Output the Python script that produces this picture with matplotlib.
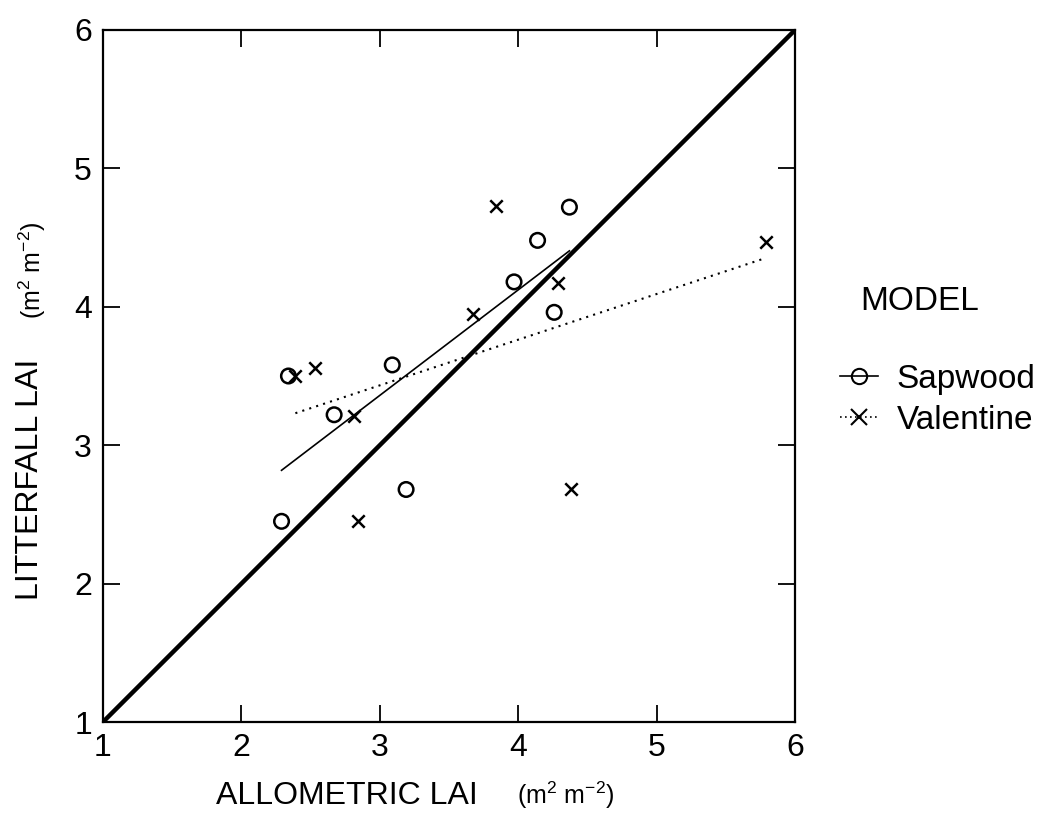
import numpy as np
import matplotlib
matplotlib.use("Agg")
import matplotlib.pyplot as plt
from matplotlib.lines import Line2D

plt.rcParams['font.family'] = ['Liberation Sans', 'DejaVu Sans']
plt.rcParams['mathtext.fontset'] = 'custom'
plt.rcParams['mathtext.rm'] = 'Liberation Sans'
plt.rcParams['mathtext.default'] = 'regular'

# data
sap_x = [2.29, 2.34, 2.67, 3.09, 3.19, 3.97, 4.14, 4.26, 4.37]
sap_y = [2.45, 3.50, 3.22, 3.58, 2.68, 4.18, 4.48, 3.96, 4.72]
val_x = [2.39, 2.53, 2.81, 2.84, 3.67, 3.84, 4.29, 4.38, 5.79]
val_y = [3.50, 3.56, 3.21, 2.45, 3.95, 4.73, 4.17, 2.68, 4.47]
ticks = [1, 2, 3, 4, 5, 6]

W, H = 1045, 816
fig = plt.figure(figsize=(W / 100, H / 100), dpi=100)
ax = fig.add_axes([103 / W, 1 - 722 / H, 692 / W, 692 / H])

# 1:1 line
ax.plot([1, 6], [1, 6], color='black', lw=3.2, zorder=2)

# regression lines for each model
def fit_line(x, y):
    x = np.array(x)
    b, a = np.polyfit(x, y, 1)
    xs = np.array([x.min(), x.max()])
    return xs, a + b * xs

xs, ys = fit_line(sap_x, sap_y)
ax.plot(xs, ys, color='black', lw=1.2, zorder=2)
xs, ys = fit_line(val_x, val_y)
ax.plot(xs, ys, color='black', lw=1.5, ls=(0, (1, 2.5)), zorder=2)

ax.scatter(sap_x, sap_y, s=110, facecolors='none', edgecolors='black', linewidths=1.8, zorder=3)
ax.scatter(val_x, val_y, s=80, marker='x', color='black', linewidths=1.8, zorder=3)

ax.set_xlim(1, 6)
ax.set_ylim(1, 6)
ax.set_xticks(ticks)
ax.set_yticks(ticks)
ax.tick_params(direction='in', length=12, width=1.3, labelsize=23, pad=8,
               top=True, right=True)
for sp in ax.spines.values():
    sp.set_linewidth(1.6)

# axis labels
fig.text(216 / W, 1 - 804 / H, 'ALLOMETRIC LAI', fontsize=23, ha='left', va='baseline')
fig.text(517 / W, 1 - 804 / H, '(m$^2$ m$^{-2}$)', fontsize=18, ha='left', va='baseline')
fig.text(30 / W, 1 - 600 / H, 'LITTERFALL LAI', fontsize=23, rotation=90,
         ha='center', va='bottom')
fig.text(32 / W, 1 - 319 / H, '(m$^2$ m$^{-2}$)', fontsize=18, rotation=90,
         ha='center', va='bottom')

# legend
fig.text(860 / W, 1 - 302 / H, 'MODEL', fontsize=24, ha='left', va='center')
handles = [
    Line2D([], [], color='black', lw=1.2, marker='o', markersize=11,
           markerfacecolor='none', markeredgewidth=1.5),
    Line2D([], [], color='black', lw=1.2, ls=(0, (1, 2)), marker='x', markersize=11,
           markeredgewidth=1.5),
]
fig.legend(handles, ['Sapwood', 'Valentine'], loc='upper left',
           bbox_to_anchor=(840 / W, 1 - 364 / H), frameon=False,
           fontsize=24, handlelength=1.15, handletextpad=0.55, labelspacing=0.3,
           borderpad=0, borderaxespad=0)

fig.savefig('out.png', dpi=100)
